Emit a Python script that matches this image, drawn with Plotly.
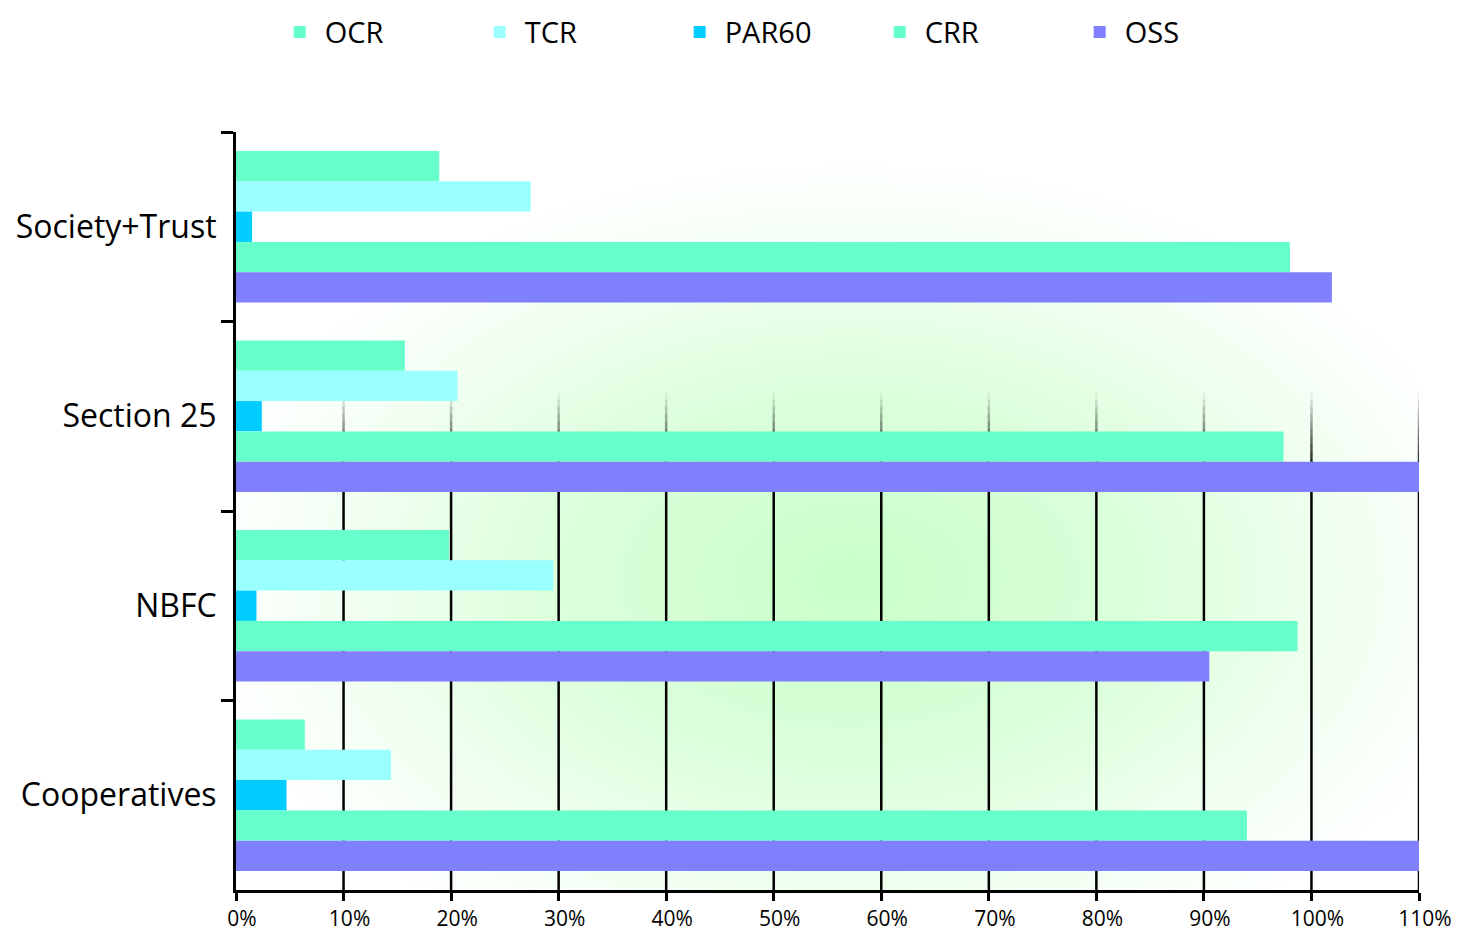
import base64
import plotly.graph_objects as go

categories = ["Society+Trust", "Section 25", "NBFC", "Cooperatives"]
series_names = ["OCR", "TCR", "PAR60", "CRR", "OSS"]
ocr = [18.9, 15.7, 19.8, 6.4]
tcr = [27.4, 20.6, 29.5, 14.4]
par60 = [1.5, 2.4, 1.9, 4.7]
crr = [98.0, 97.4, 98.7, 94.0]
oss = [101.9, 112.0, 90.5, 112.0]
colors = ["#66ffcc", "#99ffff", "#00ccff", "#66ffcc", "#8080ff"]
tick_vals = [0, 10, 20, 30, 40, 50, 60, 70, 80, 90, 100, 110]
tick_text = [f"{v}%" for v in tick_vals]

values = [ocr, tcr, par60, crr, oss]

fig = go.Figure()
for name, vals, col in zip(series_names, values, colors):
    fig.add_trace(go.Bar(
        y=categories, x=vals, name=name, orientation="h",
        marker=dict(color=col, line=dict(width=0)),
    ))

# radial green background
svg = (
    '<svg xmlns="http://www.w3.org/2000/svg" width="1183" height="761" viewBox="0 0 1183 761" preserveAspectRatio="none">'
    '<defs><radialGradient id="g" cx="0.52" cy="0.59" r="0.56">'
    '<stop offset="0" stop-color="#c8ffc8"/>'
    '<stop offset="0.45" stop-color="#dcffdc"/>'
    '<stop offset="0.8" stop-color="#f4fff4"/>'
    '<stop offset="1" stop-color="#ffffff"/>'
    '</radialGradient></defs>'
    '<rect width="1183" height="761" fill="url(#g)"/></svg>'
)
src = "data:image/svg+xml;base64," + base64.b64encode(svg.encode()).decode()
fig.add_layout_image(dict(
    source=src, xref="paper", yref="paper", x=0, y=1, sizex=1, sizey=1,
    sizing="stretch", layer="below", xanchor="left", yanchor="top",
))

# gridlines fading towards the top
fade_top = 0.657
fade_bot = 0.56
steps = 10
shapes = []
for v in tick_vals[1:]:
    shapes.append(dict(type="line", xref="x", yref="paper", x0=v, x1=v, y0=0, y1=fade_bot,
                       line=dict(color="black", width=2.5), layer="below"))
    for i in range(steps):
        a = fade_bot + (fade_top - fade_bot) * i / steps
        b = fade_bot + (fade_top - fade_bot) * (i + 1) / steps
        op = 1 - (i + 0.5) / steps
        shapes.append(dict(type="line", xref="x", yref="paper", x0=v, x1=v, y0=a, y1=b,
                           line=dict(color="black", width=2.5), opacity=op * 0.9, layer="below"))
fig.update_layout(shapes=shapes)

fig.update_layout(
    width=1461, height=938,
    margin=dict(l=236, r=42, t=132, b=48, autoexpand=False),
    paper_bgcolor="white", plot_bgcolor="rgba(0,0,0,0)",
    barmode="group", bargap=0.2, bargroupgap=0,
    font=dict(family="Open Sans", color="black"),
    legend=dict(
        orientation="h", xref="container", yref="container",
        x=0.188, y=0.993, xanchor="left", yanchor="top",
        font=dict(family="Open Sans", size=29),
        entrywidth=145, entrywidthmode="pixels",
        itemwidth=40,
    ),
    showlegend=True,
)
fig.update_xaxes(
    range=[0, 110], tickvals=tick_vals, ticktext=tick_text,
    showgrid=False, zeroline=False, automargin=False,
    showline=True, linecolor="black", linewidth=3,
    ticks="outside", ticklen=8, tickwidth=3, tickcolor="black",
    ticklabelstandoff=0, ticklabelshift=6,
    tickfont=dict(family="Open Sans", size=21),
)
fig.update_yaxes(
    categoryorder="array", categoryarray=categories, autorange="reversed",
    showgrid=False, zeroline=False, automargin=False,
    showline=True, linecolor="black", linewidth=3,
    ticks="outside", tickson="boundaries", ticklen=12, tickwidth=3, tickcolor="black",
    ticklabelstandoff=10,
    tickfont=dict(family="Open Sans", size=32),
)
fig.write_html("out.html")
